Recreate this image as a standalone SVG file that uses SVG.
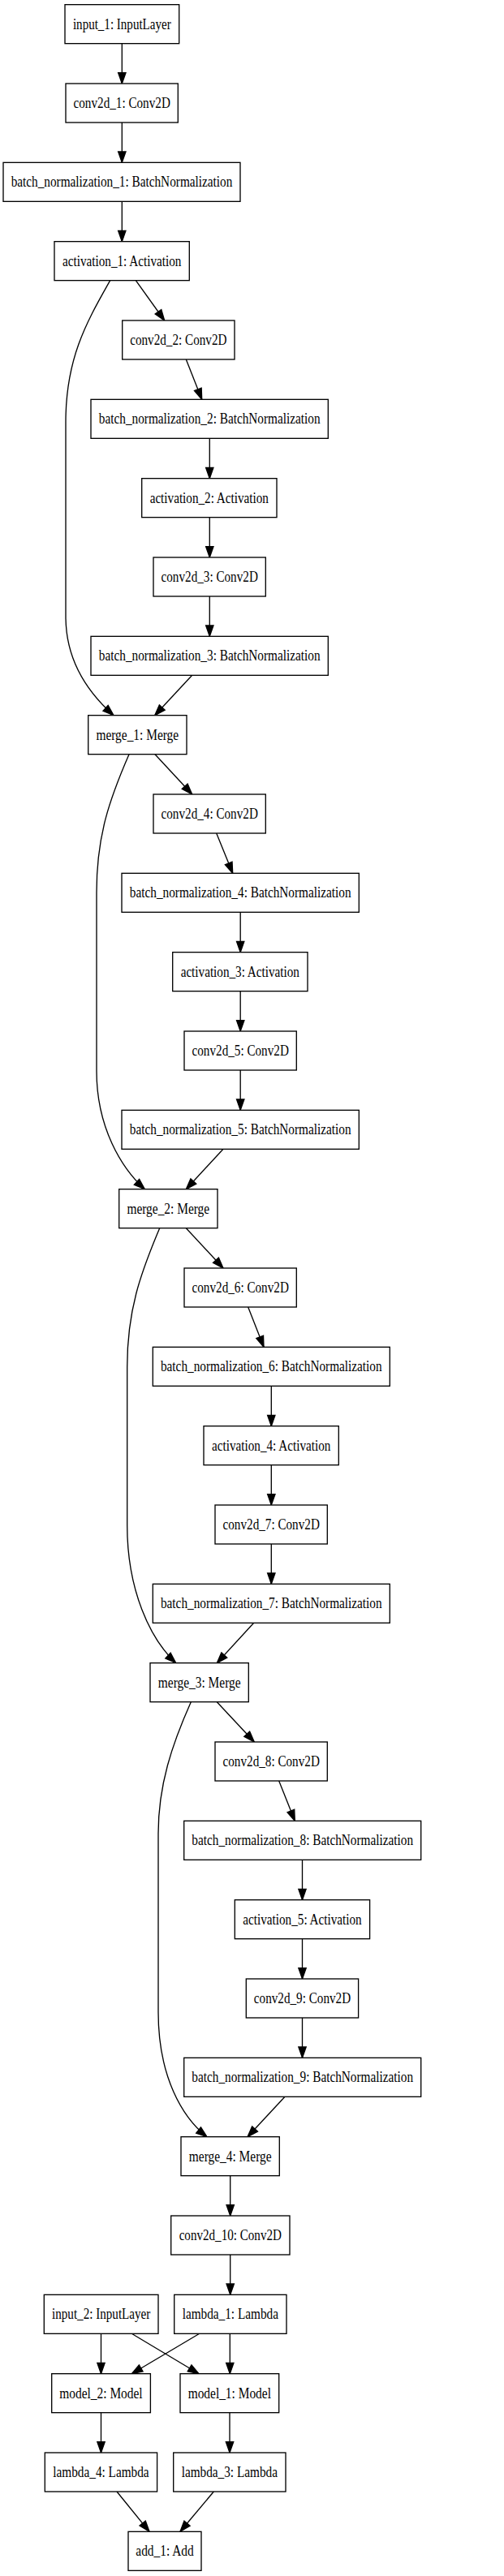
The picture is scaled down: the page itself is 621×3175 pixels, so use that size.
<svg xmlns="http://www.w3.org/2000/svg" width="621" height="3175" viewBox="0 0 621 3175">
<style>
.node rect{fill:#fff;stroke:#000;stroke-width:1.33}
.node text{font-family:"Liberation Serif","Times New Roman",serif;font-size:18px;text-anchor:middle;fill:#000}
.edges path{fill:none;stroke:#000;stroke-width:1.33;marker-end:url(#ah)}
</style>
<defs>
<marker id="ah" markerUnits="userSpaceOnUse" markerWidth="15" markerHeight="11" refX="13.3" refY="4.67" orient="auto" overflow="visible">
<path d="M0,0 L13.3,4.67 L0,9.33 Z" fill="#000" stroke="#000" stroke-width="1.33"/>
</marker>
</defs>
<rect width="621" height="3175" fill="#fff"/>
<g class="edges" id="edges">
<path d="M150.3,53.7 L150.3,103"/>
<path d="M150.3,151 L150.3,200.3"/>
<path d="M150.3,248.3 L150.3,297.7"/>
<path d="M167.3,345.7 L202.7,395"/>
<path d="M135.7,345.7 C108,395 81,440 81,520 L81,760 C81,815 110,855 140,881.7"/>
<path d="M229.3,443 L248.7,492.3"/>
<path d="M258.3,540.3 L258.3,589.7"/>
<path d="M258.3,637.7 L258.3,687"/>
<path d="M258.3,735 L258.3,784.3"/>
<path d="M236.7,832.3 L190.7,881.7"/>
<path d="M191,929.7 L236.7,979"/>
<path d="M159,929.7 C135,985 119,1030 119,1100 L119,1320 C119,1390 150,1440 178.3,1465.7"/>
<path d="M266.7,1027 L286.7,1076.3"/>
<path d="M296.2,1124.3 L296.2,1173.7"/>
<path d="M296.2,1221.7 L296.2,1271"/>
<path d="M296.2,1319 L296.2,1368.3"/>
<path d="M275,1416.3 L229.3,1465.7"/>
<path d="M229.3,1513.7 L275,1563"/>
<path d="M196.7,1513.7 C173,1570 156.7,1615 156.7,1685 L156.7,1880 C156.7,1960 185,2020 216.7,2049.7"/>
<path d="M305.7,1611 L325,1660.3"/>
<path d="M334.3,1708.3 L334.3,1757.7"/>
<path d="M334.3,1805.7 L334.3,1855"/>
<path d="M334.3,1903 L334.3,1952.3"/>
<path d="M312.7,2000.3 L267.3,2049.7"/>
<path d="M267.3,2097.7 L313.3,2147"/>
<path d="M235.3,2097.7 C212,2150 195,2200 195,2260 L195,2480 C195,2560 225,2610 255,2633.7"/>
<path d="M343.7,2195 L363.3,2244.3"/>
<path d="M372.5,2292.3 L372.5,2341.7"/>
<path d="M372.5,2389.7 L372.5,2439"/>
<path d="M372.5,2487 L372.5,2536.3"/>
<path d="M351,2584.3 L305,2633.7"/>
<path d="M283.7,2681.7 L283.7,2731"/>
<path d="M283.7,2779 L283.7,2828.3"/>
<path d="M124.5,2876.3 L124.5,2925.7"/>
<path d="M162.3,2876.3 L245,2925.7"/>
<path d="M245.7,2876.3 L162.3,2925.7"/>
<path d="M283.3,2876.3 L283.3,2925.7"/>
<path d="M124.5,2973.7 L124.5,3023"/>
<path d="M283,2973.7 L283,3023"/>
<path d="M144,3071 L184,3120.3"/>
<path d="M263.3,3071 L222,3120.3"/>
</g>
<g class="node" id="input_1"><rect x="80" y="5.67" width="140.7" height="48"/><text x="150.3" y="35.67" textLength="120.7" lengthAdjust="spacingAndGlyphs">input_1: InputLayer</text></g>
<g class="node" id="conv2d_1"><rect x="81" y="103" width="138.3" height="48"/><text x="150.2" y="133" textLength="119.3" lengthAdjust="spacingAndGlyphs">conv2d_1: Conv2D</text></g>
<g class="node" id="batch_normalization_1"><rect x="4" y="200.33" width="292" height="48"/><text x="150" y="230.33" textLength="272.7" lengthAdjust="spacingAndGlyphs">batch_normalization_1: BatchNormalization</text></g>
<g class="node" id="activation_1"><rect x="67" y="297.67" width="166.3" height="48"/><text x="150.2" y="327.67" textLength="146.3" lengthAdjust="spacingAndGlyphs">activation_1: Activation</text></g>
<g class="node" id="conv2d_2"><rect x="150.7" y="395" width="138.3" height="48"/><text x="219.8" y="425" textLength="119.3" lengthAdjust="spacingAndGlyphs">conv2d_2: Conv2D</text></g>
<g class="node" id="batch_normalization_2"><rect x="112" y="492.33" width="292.3" height="48"/><text x="258.2" y="522.33" textLength="272.7" lengthAdjust="spacingAndGlyphs">batch_normalization_2: BatchNormalization</text></g>
<g class="node" id="activation_2"><rect x="174.7" y="589.67" width="166.3" height="48"/><text x="257.8" y="619.67" textLength="146.3" lengthAdjust="spacingAndGlyphs">activation_2: Activation</text></g>
<g class="node" id="conv2d_3"><rect x="189" y="687" width="138.3" height="48"/><text x="258.2" y="717" textLength="119.3" lengthAdjust="spacingAndGlyphs">conv2d_3: Conv2D</text></g>
<g class="node" id="batch_normalization_3"><rect x="112" y="784.33" width="292.3" height="48"/><text x="258.2" y="814.33" textLength="272.7" lengthAdjust="spacingAndGlyphs">batch_normalization_3: BatchNormalization</text></g>
<g class="node" id="merge_1"><rect x="108.7" y="881.67" width="121.3" height="48"/><text x="169.3" y="911.67" textLength="101.7" lengthAdjust="spacingAndGlyphs">merge_1: Merge</text></g>
<g class="node" id="conv2d_4"><rect x="189" y="979" width="138.3" height="48"/><text x="258.2" y="1009" textLength="119.3" lengthAdjust="spacingAndGlyphs">conv2d_4: Conv2D</text></g>
<g class="node" id="batch_normalization_4"><rect x="150" y="1076.33" width="292.3" height="48"/><text x="296.2" y="1106.33" textLength="272.7" lengthAdjust="spacingAndGlyphs">batch_normalization_4: BatchNormalization</text></g>
<g class="node" id="activation_3"><rect x="212.7" y="1173.67" width="166.3" height="48"/><text x="295.8" y="1203.67" textLength="146.3" lengthAdjust="spacingAndGlyphs">activation_3: Activation</text></g>
<g class="node" id="conv2d_5"><rect x="227" y="1271" width="138.3" height="48"/><text x="296.2" y="1301" textLength="119.3" lengthAdjust="spacingAndGlyphs">conv2d_5: Conv2D</text></g>
<g class="node" id="batch_normalization_5"><rect x="150" y="1368.33" width="292.3" height="48"/><text x="296.2" y="1398.33" textLength="272.7" lengthAdjust="spacingAndGlyphs">batch_normalization_5: BatchNormalization</text></g>
<g class="node" id="merge_2"><rect x="146.7" y="1465.67" width="121.3" height="48"/><text x="207.3" y="1495.67" textLength="101.7" lengthAdjust="spacingAndGlyphs">merge_2: Merge</text></g>
<g class="node" id="conv2d_6"><rect x="227" y="1563" width="138.3" height="48"/><text x="296.2" y="1593" textLength="119.3" lengthAdjust="spacingAndGlyphs">conv2d_6: Conv2D</text></g>
<g class="node" id="batch_normalization_6"><rect x="188.3" y="1660.33" width="292" height="48"/><text x="334.3" y="1690.33" textLength="272.7" lengthAdjust="spacingAndGlyphs">batch_normalization_6: BatchNormalization</text></g>
<g class="node" id="activation_4"><rect x="251" y="1757.67" width="166.3" height="48"/><text x="334.2" y="1787.67" textLength="146.3" lengthAdjust="spacingAndGlyphs">activation_4: Activation</text></g>
<g class="node" id="conv2d_7"><rect x="265" y="1855" width="138.3" height="48"/><text x="334.2" y="1885" textLength="119.3" lengthAdjust="spacingAndGlyphs">conv2d_7: Conv2D</text></g>
<g class="node" id="batch_normalization_7"><rect x="188.3" y="1952.33" width="292" height="48"/><text x="334.3" y="1982.33" textLength="272.7" lengthAdjust="spacingAndGlyphs">batch_normalization_7: BatchNormalization</text></g>
<g class="node" id="merge_3"><rect x="185" y="2049.67" width="121.3" height="48"/><text x="245.7" y="2079.67" textLength="101.7" lengthAdjust="spacingAndGlyphs">merge_3: Merge</text></g>
<g class="node" id="conv2d_8"><rect x="265" y="2147" width="138.3" height="48"/><text x="334.2" y="2177" textLength="119.3" lengthAdjust="spacingAndGlyphs">conv2d_8: Conv2D</text></g>
<g class="node" id="batch_normalization_8"><rect x="226.7" y="2244.33" width="292" height="48"/><text x="372.7" y="2274.33" textLength="272.7" lengthAdjust="spacingAndGlyphs">batch_normalization_8: BatchNormalization</text></g>
<g class="node" id="activation_5"><rect x="289.3" y="2341.67" width="166.3" height="48"/><text x="372.5" y="2371.67" textLength="146.3" lengthAdjust="spacingAndGlyphs">activation_5: Activation</text></g>
<g class="node" id="conv2d_9"><rect x="303.3" y="2439" width="138.3" height="48"/><text x="372.5" y="2469" textLength="119.3" lengthAdjust="spacingAndGlyphs">conv2d_9: Conv2D</text></g>
<g class="node" id="batch_normalization_9"><rect x="226.7" y="2536.33" width="292" height="48"/><text x="372.7" y="2566.33" textLength="272.7" lengthAdjust="spacingAndGlyphs">batch_normalization_9: BatchNormalization</text></g>
<g class="node" id="merge_4"><rect x="223" y="2633.67" width="121.3" height="48"/><text x="283.7" y="2663.67" textLength="101.7" lengthAdjust="spacingAndGlyphs">merge_4: Merge</text></g>
<g class="node" id="conv2d_10"><rect x="210.7" y="2731" width="146.3" height="48"/><text x="283.8" y="2761" textLength="126.3" lengthAdjust="spacingAndGlyphs">conv2d_10: Conv2D</text></g>
<g class="node" id="input_2"><rect x="54.3" y="2828.33" width="140.7" height="48"/><text x="124.7" y="2858.33" textLength="121.3" lengthAdjust="spacingAndGlyphs">input_2: InputLayer</text></g>
<g class="node" id="lambda_1"><rect x="214.7" y="2828.33" width="138.3" height="48"/><text x="283.8" y="2858.33" textLength="118.3" lengthAdjust="spacingAndGlyphs">lambda_1: Lambda</text></g>
<g class="node" id="model_2"><rect x="63.7" y="2925.67" width="121.7" height="48"/><text x="124.5" y="2955.67" textLength="102.3" lengthAdjust="spacingAndGlyphs">model_2: Model</text></g>
<g class="node" id="model_1"><rect x="222" y="2925.67" width="121.7" height="48"/><text x="282.8" y="2955.67" textLength="102.3" lengthAdjust="spacingAndGlyphs">model_1: Model</text></g>
<g class="node" id="lambda_4"><rect x="55.3" y="3023" width="138.3" height="48"/><text x="124.5" y="3053" textLength="118.3" lengthAdjust="spacingAndGlyphs">lambda_4: Lambda</text></g>
<g class="node" id="lambda_3"><rect x="213.7" y="3023" width="138.3" height="48"/><text x="282.8" y="3053" textLength="118.3" lengthAdjust="spacingAndGlyphs">lambda_3: Lambda</text></g>
<g class="node" id="add_1"><rect x="158" y="3120.33" width="90" height="48"/><text x="203" y="3150.33" textLength="71.3" lengthAdjust="spacingAndGlyphs">add_1: Add</text></g>
</svg>
